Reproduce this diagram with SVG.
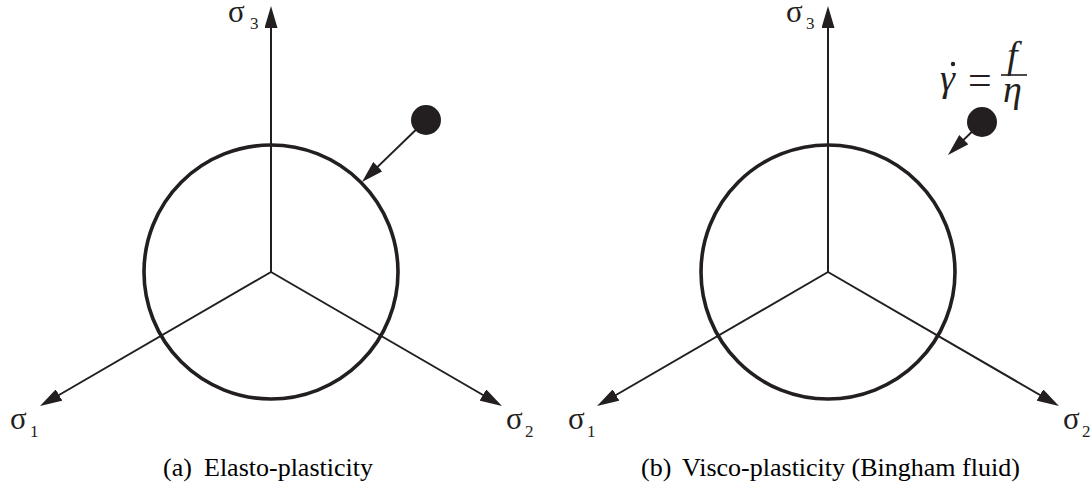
<svg xmlns="http://www.w3.org/2000/svg" width="1092" height="492" viewBox="0 0 1092 492">
<style>
.ax{stroke:#231f20;stroke-width:2;fill:none}
.yc{stroke:#231f20;stroke-width:3.6;fill:none}
.dot{fill:#231f20}
.sg{font-family:"Liberation Serif",serif;font-size:31px;fill:#231f20}
.sb{font-family:"Liberation Serif",serif;font-size:17px;fill:#231f20}
.cap{font-family:"Liberation Serif",serif;font-size:26px;fill:#000}
.mi{font-family:"Liberation Serif",serif;font-style:italic;font-size:38px;fill:#231f20}
.mr{font-family:"Liberation Serif",serif;font-size:42px;fill:#231f20}
</style>
<defs>
<marker id="ah" markerUnits="userSpaceOnUse" markerWidth="22" markerHeight="13" refX="10" refY="6.5" orient="auto" viewBox="0 0 22 13">
<path d="M0,0 L22,6.5 L0,13 z" fill="#231f20"/>
</marker>
</defs>
<g id="panel-a">
<g id="yield-a"><circle class="yc" cx="271" cy="272" r="127"/></g>
<g id="connectors-a">
<line class="ax" x1="271" y1="272" x2="271" y2="18" marker-end="url(#ah)"/>
<line class="ax" x1="271" y1="272" x2="50.4" y2="400" marker-end="url(#ah)"/>
<line class="ax" x1="271" y1="272" x2="491.6" y2="400" marker-end="url(#ah)"/>
<line class="ax" x1="426" y1="120" x2="370.6" y2="173.6" marker-end="url(#ah)"/>
</g>
<g id="state-a"><circle class="dot" cx="426" cy="120" r="15"/></g>
<g id="s3-a"><text class="sg" x="228" y="22">σ</text><text class="sb" x="250" y="29">3</text></g>
<g id="s1-a"><text class="sg" x="10" y="429">σ</text><text class="sb" x="30" y="437">1</text></g>
<g id="s2-a"><text class="sg" x="506" y="429">σ</text><text class="sb" x="525" y="437">2</text></g>
<text class="cap" x="163" y="476">(a)</text>
<text class="cap" x="204" y="476">Elasto-plasticity</text>
</g>
<g id="panel-b">
<g id="yield-b"><circle class="yc" cx="828" cy="272" r="127"/></g>
<g id="connectors-b">
<line class="ax" x1="828" y1="272" x2="828" y2="18" marker-end="url(#ah)"/>
<line class="ax" x1="828" y1="272" x2="607.4" y2="400" marker-end="url(#ah)"/>
<line class="ax" x1="828" y1="272" x2="1048.6" y2="400" marker-end="url(#ah)"/>
<line class="ax" x1="982" y1="122" x2="956.6" y2="146.6" marker-end="url(#ah)"/>
</g>
<g id="state-b"><circle class="dot" cx="982" cy="122" r="15"/></g>
<g id="formula">
<text class="mi" x="940" y="91">γ</text>
<circle class="dot" cx="953" cy="64" r="2.2"/>
<text class="mr" x="968" y="94">=</text>
<line x1="1001" y1="75" x2="1027" y2="75" stroke="#231f20" stroke-width="1.6"/>
<text class="mi" x="1007" y="68">f</text>
<text class="mi" x="1003" y="102">η</text>
</g>
<g id="s3-b"><text class="sg" x="786" y="22">σ</text><text class="sb" x="806" y="29">3</text></g>
<g id="s1-b"><text class="sg" x="568" y="429">σ</text><text class="sb" x="587" y="437">1</text></g>
<g id="s2-b"><text class="sg" x="1063" y="429">σ</text><text class="sb" x="1082" y="437">2</text></g>
<text class="cap" x="641" y="476">(b)</text>
<text class="cap" x="682" y="476">Visco-plasticity (Bingham fluid)</text>
</g>
</svg>
